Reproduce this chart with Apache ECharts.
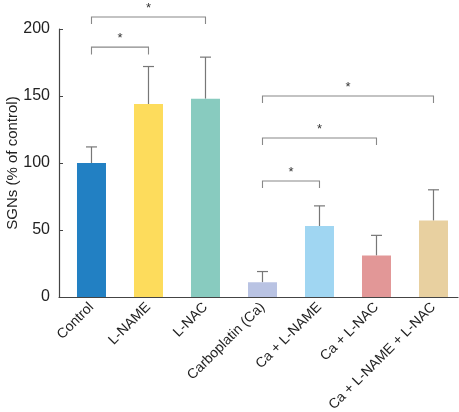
<!DOCTYPE html>
<html><head><meta charset="utf-8">
<script src="https://cdn.jsdelivr.net/npm/echarts@6/dist/echarts.min.js"></script>
<style>html,body{margin:0;padding:0;background:#fff}#c{width:459px;height:412px}</style>
</head><body><div id="c"></div>
<script>
var categories = ['Control','L-NAME','L-NAC','Carboplatin (Ca)','Ca + L-NAME','Ca + L-NAC','Ca + L-NAME + L-NAC'];
var means = [100, 144, 148, 11, 53, 31, 57];
var errTops = [112, 172, 179, 19, 68, 46, 80];
var barColors = ['#2280c3','#fddc5c','#88cbbf','#b9c3e3','#a0d6f2','#e29797','#e8d0a0'];
var yTicks = [0, 50, 100, 150, 200];
// significance brackets: [fromIndex, toIndex, level, tipLevel]
var brackets = [[0,1,186.5,181],[0,2,209,203.7],[3,4,86.6,81.3],[3,5,118.7,113.4],[3,6,150,144.8]];

var chart = echarts.init(document.getElementById('c'));
var font = 'Liberation Sans, Arial, sans-serif';
var catIdx = categories.map(function(c,i){return i;});
chart.setOption({
  animation:false,
  grid:{left:59,right:1,top:29,bottom:115,containLabel:false,outerBoundsMode:'none'},
  xAxis:{type:'value',min:-0.57,max:6.43,splitLine:{show:false},
    axisLine:{show:true,onZero:false,lineStyle:{color:'#444',width:1.2}},axisTick:{show:false},
    axisLabel:{customValues:catIdx,formatter:function(v){return categories[Math.round(v)];},
      rotate:45,color:'#222',fontSize:14,fontFamily:font,margin:8,showMinLabel:true,showMaxLabel:true}},
  yAxis:{type:'value',min:yTicks[0],max:yTicks[yTicks.length-1],interval:50,
    name:'SGNs (% of control)',nameLocation:'middle',nameGap:39,nameRotate:90,nameMoveOverlap:false,
    nameTextStyle:{color:'#222',fontSize:15,fontFamily:font},
    axisLine:{show:true,onZero:false,lineStyle:{color:'#444',width:1.2}},
    axisTick:{show:true,inside:true,length:4,lineStyle:{color:'#444'}},
    splitLine:{show:false},
    axisLabel:{color:'#222',fontSize:16,fontFamily:font,margin:9}},
  series:[
    {type:'bar',barWidth:29,data:means.map(function(v,i){return {value:[i,v],itemStyle:{color:barColors[i]}};}),z:2},
    {type:'custom',z:1,clip:false,data:means.map(function(v,i){return [i,v,errTops[i]];}),
      renderItem:function(params,api){
        var p0=api.coord([api.value(0),api.value(1)]);
        var p1=api.coord([api.value(0),api.value(2)]);
        var st={stroke:'#777',lineWidth:1.2};
        return {type:'group',children:[
          {type:'line',shape:{x1:p0[0],y1:p0[1],x2:p1[0],y2:p1[1]},style:st},
          {type:'line',shape:{x1:p1[0]-5.5,y1:p1[1],x2:p1[0]+5.5,y2:p1[1]},style:st}
        ]};
      }},
    {type:'custom',z:3,clip:false,data:brackets,
      renderItem:function(params,api){
        var a=api.coord([api.value(0),api.value(2)]);
        var b=api.coord([api.value(1),api.value(2)]);
        var ta=api.coord([api.value(0),api.value(3)]);
        var st={stroke:'#888',lineWidth:1.1,fill:null};
        return {type:'group',children:[
          {type:'polyline',shape:{points:[[a[0],ta[1]],[a[0],a[1]],[b[0],b[1]],[b[0],ta[1]]]},style:st},
          {type:'text',style:{text:'*',x:(a[0]+b[0])/2,y:a[1]-2,textAlign:'center',textVerticalAlign:'bottom',fontSize:13,fontFamily:font,fill:'#333'}}
        ]};
      }}
  ]
});
</script></body></html>
